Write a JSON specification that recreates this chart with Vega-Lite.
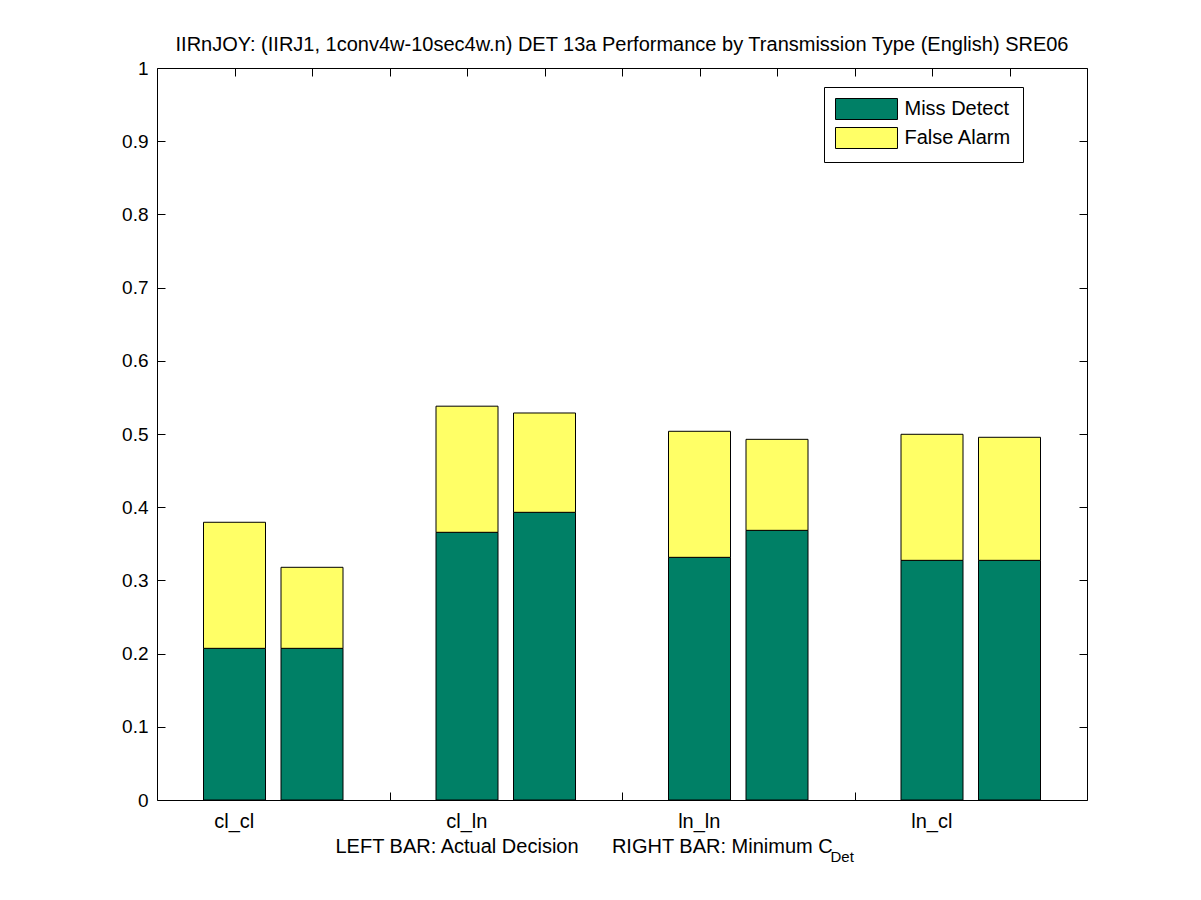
{
  "$schema": "https://vega.github.io/schema/vega-lite/v6.json",
  "width": 930,
  "height": 732,
  "autosize": {"type": "none"},
  "padding": {"left": 157, "top": 68, "right": 114, "bottom": 100},
  "background": "white",
  "title": {
    "text": "IIRnJOY: (IIRJ1, 1conv4w-10sec4w.n) DET 13a Performance by Transmission Type (English) SRE06",
    "fontSize": 20,
    "fontWeight": "normal",
    "font": "Liberation Sans",
    "color": "black",
    "anchor": "middle",
    "frame": "group",
    "baseline": "alphabetic",
    "offset": 16,
    "dy": 28
  },
  "data": {
    "values": [
      {"transmission": "cl_cl", "decision": "Actual Decision", "type": "Miss Detect", "value": 0.2072},
      {"transmission": "cl_cl", "decision": "Actual Decision", "type": "False Alarm", "value": 0.1722},
      {"transmission": "cl_cl", "decision": "Minimum C_Det", "type": "Miss Detect", "value": 0.2072},
      {"transmission": "cl_cl", "decision": "Minimum C_Det", "type": "False Alarm", "value": 0.1107},
      {"transmission": "cl_ln", "decision": "Actual Decision", "type": "Miss Detect", "value": 0.3657},
      {"transmission": "cl_ln", "decision": "Actual Decision", "type": "False Alarm", "value": 0.1723},
      {"transmission": "cl_ln", "decision": "Minimum C_Det", "type": "Miss Detect", "value": 0.393},
      {"transmission": "cl_ln", "decision": "Minimum C_Det", "type": "False Alarm", "value": 0.1357},
      {"transmission": "ln_ln", "decision": "Actual Decision", "type": "Miss Detect", "value": 0.3315},
      {"transmission": "ln_ln", "decision": "Actual Decision", "type": "False Alarm", "value": 0.1722},
      {"transmission": "ln_ln", "decision": "Minimum C_Det", "type": "Miss Detect", "value": 0.3684},
      {"transmission": "ln_ln", "decision": "Minimum C_Det", "type": "False Alarm", "value": 0.1243},
      {"transmission": "ln_cl", "decision": "Actual Decision", "type": "Miss Detect", "value": 0.3274},
      {"transmission": "ln_cl", "decision": "Actual Decision", "type": "False Alarm", "value": 0.1722},
      {"transmission": "ln_cl", "decision": "Minimum C_Det", "type": "Miss Detect", "value": 0.3274},
      {"transmission": "ln_cl", "decision": "Minimum C_Det", "type": "False Alarm", "value": 0.1681}
    ]
  },
  "layer": [
    {
      "mark": {"type": "bar", "stroke": "black", "strokeWidth": 1, "opacity": 1},
      "encoding": {
        "x": {
          "field": "transmission",
          "type": "nominal",
          "sort": ["cl_cl", "cl_ln", "ln_ln", "ln_cl"],
          "scale": {"paddingInner": 0, "paddingOuter": 0},
          "axis": {
            "orient": "bottom",
            "ticks": false,
            "domain": false,
            "grid": false,
            "labelAngle": 0,
            "labelOffset": -39,
            "labelPadding": 11,
            "labelFontSize": 20,
            "title": "LEFT BAR: Actual Decision\u00a0\u00a0\u00a0\u00a0\u00a0\u00a0RIGHT BAR: Minimum C",
            "titleFontSize": 20,
            "titleFontWeight": "normal",
            "titleAlign": "left",
            "titleX": 178,
            "titleY": 52,
            "titleBaseline": "alphabetic"
          }
        },
        "xOffset": {
          "field": "decision",
          "type": "nominal",
          "sort": ["Actual Decision", "Minimum C_Det"],
          "scale": {"paddingInner": 0.2, "paddingOuter": 0.6}
        },
        "y": {
          "field": "value",
          "type": "quantitative",
          "stack": "zero",
          "scale": {"domain": [0, 1], "nice": false},
          "axis": {
            "orient": "left",
            "values": [0, 0.1, 0.2, 0.3, 0.4, 0.5, 0.6, 0.7, 0.8, 0.9, 1],
            "format": "~g",
            "tickSize": -8,
            "labelPadding": 17,
            "labelFontSize": 19,
            "domain": false,
            "grid": false,
            "title": null
          }
        },
        "color": {
          "field": "type",
          "type": "nominal",
          "scale": {"domain": ["Miss Detect", "False Alarm"], "range": ["#008066", "#ffff66"]},
          "legend": {
            "orient": "none",
            "legendX": 667,
            "legendY": 19,
            "title": null
          }
        },
        "order": {"field": "type", "sort": "descending"}
      }
    },
    {
      "mark": {"type": "point", "opacity": 0},
      "encoding": {
        "x": {
          "datum": 0,
          "type": "quantitative",
          "scale": {"domain": [0, 12], "nice": false, "zero": false},
          "axis": {
            "orient": "bottom",
            "values": [1, 2, 3, 4, 5, 6, 7, 8, 9, 10, 11],
            "tickSize": -8,
            "labels": false,
            "domain": false,
            "grid": false,
            "title": "Det",
            "titleFontSize": 15,
            "titleFontWeight": "normal",
            "titleAlign": "left",
            "titleX": 673,
            "titleY": 61,
            "titleBaseline": "alphabetic"
          }
        }
      }
    },
    {
      "mark": {"type": "point", "opacity": 0},
      "encoding": {
        "x": {
          "datum": 0,
          "type": "quantitative",
          "scale": {"domain": [0, 12], "nice": false, "zero": false},
          "axis": {
            "orient": "top",
            "values": [1, 2, 3, 4, 5, 6, 7, 8, 9, 10, 11],
            "tickSize": -8,
            "labels": false,
            "domain": false,
            "grid": false,
            "title": null
          }
        },
        "y": {
          "datum": 0,
          "type": "quantitative",
          "axis": {
            "orient": "right",
            "values": [0, 0.1, 0.2, 0.3, 0.4, 0.5, 0.6, 0.7, 0.8, 0.9, 1],
            "tickSize": -8,
            "labels": false,
            "domain": false,
            "grid": false,
            "title": null
          }
        }
      }
    }
  ],
  "resolve": {
    "scale": {"x": "independent"},
    "axis": {"x": "independent", "y": "independent"}
  },
  "config": {
    "font": "Liberation Sans",
    "view": {"stroke": "black", "strokeWidth": 1, "fill": "white"},
    "axis": {
      "labelColor": "black",
      "tickColor": "black",
      "titleColor": "black",
      "labelFont": "Liberation Sans",
      "titleFont": "Liberation Sans",
      "tickWidth": 1
    },
    "legend": {
      "strokeColor": "black",
      "fillColor": "white",
      "padding": 11,
      "cornerRadius": 0,
      "symbolType": "M-2.952,-1H2.952V1H-2.952Z",
      "symbolSize": 441,
      "symbolStrokeColor": "black",
      "symbolStrokeWidth": 1,
      "symbolOffset": 20.5,
      "labelOffset": 27,
      "labelFontSize": 20,
      "labelColor": "black",
      "labelFont": "Liberation Sans",
      "rowPadding": 3
    }
  }
}
